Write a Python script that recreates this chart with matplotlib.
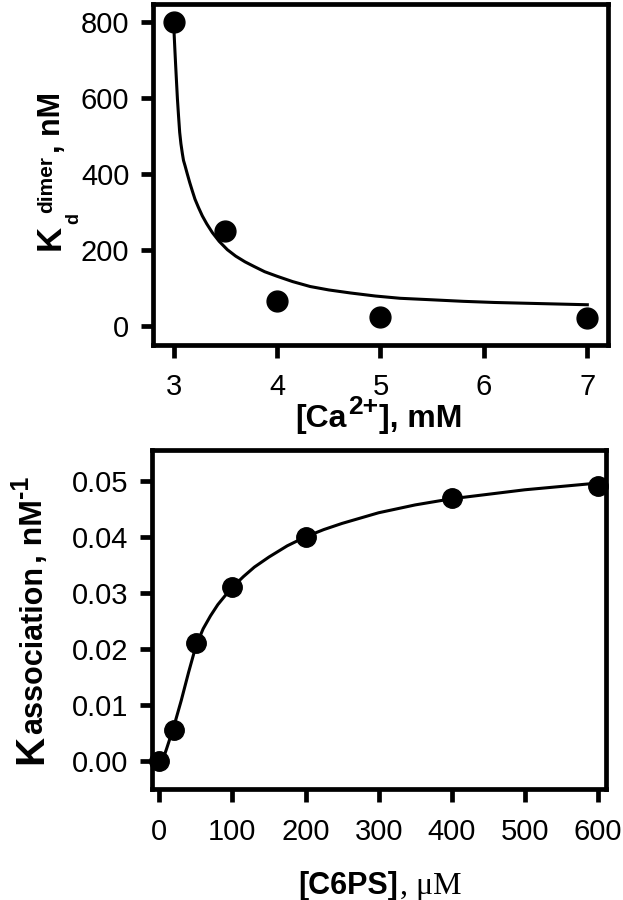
import matplotlib
matplotlib.use("Agg")
import matplotlib.pyplot as plt
from matplotlib.transforms import IdentityTransform

plt.rcParams["font.family"] = ["Liberation Sans", "DejaVu Sans"]

# top panel: dimer Kd vs calcium
ca_mM = [3, 3.5, 4, 5, 7]
kd_nM = [800, 250, 65, 25, 20]
# fitted curve
ca_fit = [3.0, 3.005, 3.012, 3.019, 3.027, 3.036, 3.047, 3.058, 3.07, 3.084, 3.095,
          3.11, 3.13, 3.155, 3.18, 3.206, 3.24, 3.277, 3.32, 3.374, 3.44, 3.519,
          3.6, 3.69, 3.776, 3.88, 4.0, 4.15, 4.32, 4.5, 4.71, 4.95, 5.19, 5.5,
          5.8, 6.1, 6.4, 6.7, 7.0]
kd_fit = [800, 765, 725, 687, 645, 599, 553, 510, 480, 454, 436,
          422, 402, 378, 356, 334, 312, 290, 269, 246, 223, 201,
          184, 169, 157, 143, 131, 117, 104, 95, 87, 79, 73, 69,
          65, 62, 60, 58, 56]
ca_ticks = [3, 4, 5, 6, 7]
kd_ticks = [0, 200, 400, 600, 800]

# bottom panel: association constant vs C6PS
c6ps_uM = [0, 20, 50, 100, 200, 400, 600]
kassoc = [0.0, 0.0055, 0.021, 0.031, 0.040, 0.047, 0.049]
c6ps_fit = [0, 5, 10, 15, 20, 25, 30, 40, 50, 60, 70, 80, 90, 100, 115, 130,
            150, 175, 200, 225, 250, 300, 350, 400, 450, 500, 550, 600]
kassoc_fit = [-0.0015, 0.0003, 0.0022, 0.0042, 0.0062, 0.0085, 0.0108, 0.0158,
              0.0205, 0.0236, 0.0259, 0.0279, 0.0295, 0.0310, 0.0329, 0.0346,
              0.0364, 0.0384, 0.0400, 0.0413, 0.0424, 0.0443, 0.0457, 0.0468,
              0.0476, 0.0484, 0.0490, 0.0496]
c6ps_ticks = [0, 100, 200, 300, 400, 500, 600]
kassoc_ticks = [0.00, 0.01, 0.02, 0.03, 0.04, 0.05]

LW = 3.4


def style(ax, xpad, ypad):
    for s in ax.spines.values():
        s.set_linewidth(LW)
    ax.tick_params(direction="out", length=9, width=LW, labelsize=21)
    ax.tick_params(axis="x", pad=xpad)
    ax.tick_params(axis="y", pad=ypad)


def run_label(fig, parts, x, y, vertical=False):
    """Lay text pieces end to end, centred on (x, y) in pixels; y/x is the baseline.
    parts: (text, size, weight, family, rise_pt, gap_pt)"""
    r = fig.canvas.get_renderer()
    items = []
    for text, size, weight, family, rise, gap in parts:
        t = fig.text(0, 0, text, fontsize=size, fontweight=weight, family=family,
                     rotation=90 if vertical else 0, rotation_mode="anchor",
                     ha="left", va="baseline", transform=IdentityTransform())
        bb = t.get_window_extent(r)
        k = fig.dpi / 72
        items.append((t, bb.height if vertical else bb.width, rise * k, gap * k))
    total = sum(w + g for _, w, _, g in items)
    pos = (y if vertical else x) - total / 2
    for t, w, rise, gap in items:
        pos += gap
        if vertical:
            t.set_position((x - rise, pos))
        else:
            t.set_position((pos, y + rise))
        pos += w


fig = plt.figure(figsize=(6.23, 9), dpi=100)
W, H = 623, 900
ax1 = fig.add_axes([153 / W, 1 - 345 / H, (608 - 153) / W, (345 - 4) / H])
ax2 = fig.add_axes([152 / W, 1 - 789 / H, (606 - 152) / W, (789 - 450) / H])

# ----- top -----
ax1.plot(ca_fit, kd_fit, color="black", lw=2.2, zorder=2)
ax1.plot(ca_mM, kd_nM, "o", color="black", ms=15, zorder=3, clip_on=False)
ax1.set_xlim(2.8, 7.2)
ax1.set_ylim(-50, 848)
ax1.set_xticks(ca_ticks)
ax1.set_yticks(kd_ticks)
style(ax1, 11, 8)

# ----- bottom -----
ax2.plot(c6ps_fit, kassoc_fit, color="black", lw=2.2, zorder=2)
ax2.plot(c6ps_uM, kassoc, "o", color="black", ms=14, zorder=3, clip_on=False)
ax2.set_xlim(-10, 611)
ax2.set_ylim(-0.005, 0.0555)
ax2.set_xticks(c6ps_ticks)
ax2.set_yticks(kassoc_ticks)
ax2.set_yticklabels([f"{v:.2f}" for v in kassoc_ticks])
style(ax2, 12, 8)

fig.canvas.draw()
sans, serif = "Liberation Sans", "Liberation Serif"
run_label(fig, [("[Ca", 23, "bold", sans, 0, 0), ("2+", 19, "bold", sans, 9, 1),
                ("], mM", 23, "bold", sans, 0, 1)], 379, 473)
run_label(fig, [("[C6PS]", 22, "bold", sans, 0, 0), (", \u03bcM", 23, "normal", serif, 0, 1)],
          380, 6)
run_label(fig, [("K", 25, "bold", sans, 0, 0), ("d", 13, "bold", sans, -13, 1),
                ("dimer", 15, "bold", sans, 6, 0), (", nM", 22, "bold", sans, 0, 2)],
          60, 900 - 171, vertical=True)
run_label(fig, [("K", 29, "bold", sans, 0, 0), ("association", 22, "bold", sans, 0, 1),
                (", nM", 23, "bold", sans, 0, 2), ("-1", 18, "bold", sans, 10, 1)],
          42, 900 - 620, vertical=True)

fig.savefig("out.png", dpi=100)
